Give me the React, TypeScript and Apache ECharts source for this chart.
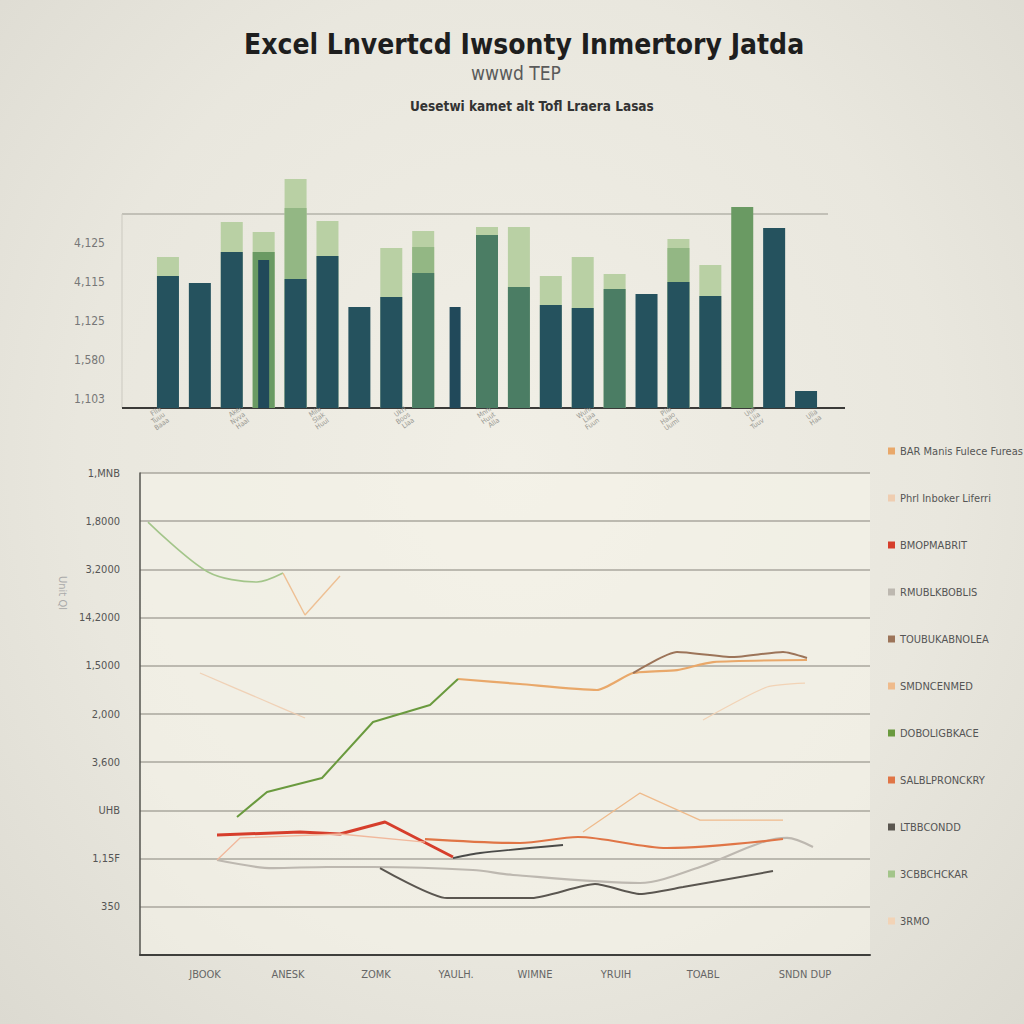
import React, { useEffect, useRef } from "react";
import * as echarts from "echarts";

const FONT = '"Liberation Sans Narrow", "DejaVu Sans Condensed", "Liberation Sans", sans-serif';

// ---------- texts ----------
const titleMain = "Excel Lnvertcd Iwsonty Inmertory Jatda";
const titleSub = "wwwd TEP";
const titleSub2 = "Uesetwi kamet alt Tofl Lraera Lasas";
const lineYName = "Unit Ql";

// ---------- top bar chart ----------
const barSlots = [
  "S01", "S02", "S03", "S04", "S05", "S06", "S07", "S08", "S09", "S10", "S11",
  "S12", "S13", "S14", "S15", "S16", "S17", "S18", "S19", "S20", "S21",
];
const barBack = [3872, null, 4769, 4513, 5872, 4795, null, 4103, 4538, null, 4641, 4641, 3385, 3872, 3436, null, 4333, 3667, null, null, null];
const barMid = [null, null, null, null, 5128, null, null, null, 4128, null, null, null, null, null, null, null, 4103, null, null, null, null];
const barDark = [3385, 3205, 4000, null, 3308, 3897, 2590, 2846, null, null, null, null, 2641, 2564, null, 2923, 3231, 2872, null, 4615, 436];
const barMidGreen = [null, null, null, null, null, null, null, null, 3462, null, 4436, 3103, null, null, 3051, null, null, null, null, null, null];
const barGreen = [null, null, null, 4000, null, null, null, null, null, null, null, null, null, null, null, null, null, null, 5154, null, null];
const barThin = [null, null, null, 3795, null, null, null, null, null, 2590, null, null, null, null, null, null, null, null, null, null, null];
const barYLabels = ["1,103", "1,580", "1,125", "4,115", "4,125"];
const barXLabelPos = [0.39, 2.9, 5.4, 8.07, 10.74, 13.87, 16.38, 19.04, 20.9];
const barXLabels = [
  "Flla\nTuuu\nBaaa", "Akel\nNvva\nHaal", "Mila\nSlak\nHuul", "Ukrl\nBoos\nLlaa",
  "Mnnl\nHuut\nAlla", "Wuhl\nLiaa\nFuun", "Plia\nHaao\nUuml", "Uuk\nLiia\nTuuv", "Ulia\nHaa",
];

// ---------- bottom line chart ----------
const lineYLabels = ["", "350", "1,15F", "UHB", "3,600", "2,000", "1,5000", "14,2000", "3,2000", "1,8000", "1,MNB"];
const lineXPos = [6.5, 14.8, 23.6, 31.6, 39.5, 47.6, 56.3, 66.5];
const lineXLabels = ["JBOOK", "ANESK", "ZOMK", "YAULH.", "WIMNE", "YRUIH", "TOABL", "SNDN DUP"];

const lineTan = [[31.8, 2863], [38, 2811], [45.7, 2749], [49.3, 2925], [53.7, 2956], [57.3, 3039], [66.7, 3060]];
const linePeachFaint = [[6, 2925], [12.3, 2645], [16.5, 2458]];
const lineRed = [[7.7, 1245], [16, 1276], [20, 1255], [24.5, 1380], [31.3, 1017]];
const lineLightGray = [[7.7, 985], [13.3, 902], [18.7, 913], [23.3, 913], [33.3, 882], [37.3, 830], [50, 747], [56, 913], [62, 1162], [64.7, 1214], [67.3, 1120]];
const lineBrown = [[49.3, 2925], [53.7, 3143], [59.3, 3091], [64.3, 3143], [66.7, 3081]];
const linePeak = [[44.3, 1276], [50, 1680], [56, 1400], [64.3, 1400]];
const lineGreenRise = [[9.7, 1431], [12.7, 1691], [18.2, 1836], [23.3, 2417], [29, 2593], [31.8, 2863]];
const lineOrangeRed = [[28.5, 1203], [38, 1162], [43.8, 1224], [52.7, 1110], [64.3, 1203]];
const lineDarkGray = [[24, 902], [30.7, 591], [39.2, 591], [45.5, 736], [50, 633], [54.3, 705], [63.3, 871]];
const lineGreenTop = [[0.8, 4491], [6.8, 3973], [11.7, 3869], [14.3, 3962]];
const lineOrangeFaint = [[56.3, 2438], [62.7, 2780], [66.5, 2821]];
const lineOrangeDip = [[14.3, 3962], [16.5, 3527], [20, 3931]];
const lineBlack = [[31.3, 1006], [34, 1058], [42.3, 1141]];
const linePeachStart = [[7.7, 985], [10, 1214], [20, 1255], [28.5, 1170]];

const legendNames = [
  "BAR Manis Fulece Fureas", "Phrl Inboker Liferri", "BMOPMABRIT", "RMUBLKBOBLIS",
  "TOUBUKABNOLEA", "SMDNCENMED", "DOBOLIGBKACE", "SALBLPRONCKRY", "LTBBCONDD",
  "3CBBCHCKAR", "3RMO",
];

export default function App() {
  const ref = useRef<HTMLDivElement>(null);
  useEffect(() => {
    if (!ref.current) return;
    const chart = echarts.init(ref.current, undefined, { renderer: "svg" });

    const lineDefs = [
      { name: legendNames[0], data: lineTan, color: "#e9a86a", width: 2.2, opacity: 1, smooth: 0.2 },
      { name: legendNames[1], data: linePeachFaint, color: "#efcdb0", width: 1.2, opacity: 0.9, smooth: 0.3 },
      { name: legendNames[2], data: lineRed, color: "#d63e2c", width: 3, opacity: 1, smooth: 0 },
      { name: legendNames[3], data: lineLightGray, color: "#bdb8b0", width: 2.2, opacity: 1, smooth: 0.3 },
      { name: legendNames[4], data: lineBrown, color: "#9c7459", width: 2, opacity: 1, smooth: 0.2 },
      { name: legendNames[5], data: linePeak, color: "#efbb8c", width: 1.3, opacity: 1, smooth: 0 },
      { name: legendNames[6], data: lineGreenRise, color: "#6a9a3e", width: 2, opacity: 1, smooth: 0 },
      { name: legendNames[7], data: lineOrangeRed, color: "#e07546", width: 2.2, opacity: 1, smooth: 0.3 },
      { name: legendNames[8], data: lineDarkGray, color: "#5a5650", width: 2, opacity: 1, smooth: 0.2 },
      { name: legendNames[9], data: lineGreenTop, color: "#a3c58a", width: 1.6, opacity: 1, smooth: 0.3 },
      { name: legendNames[10], data: lineOrangeFaint, color: "#f2d3b6", width: 1.2, opacity: 1, smooth: 0.2 },
      { name: "dip", data: lineOrangeDip, color: "#eec094", width: 1.4, opacity: 1, smooth: 0 },
      { name: "black", data: lineBlack, color: "#4a4a48", width: 1.8, opacity: 1, smooth: 0.2 },
      { name: "peach", data: linePeachStart, color: "#f1b89c", width: 1.3, opacity: 1, smooth: 0 },
    ];

    const barBase = { type: "bar", xAxisIndex: 0, yAxisIndex: 0, barWidth: 22, barGap: "-100%", clip: false };

    chart.setOption({
      animation: false,
      backgroundColor: "transparent",
      textStyle: { fontFamily: FONT },
      title: [
        { text: titleMain, left: 239, top: 25, textStyle: { fontSize: 28, fontWeight: "bold", color: "#1e1e1e", fontFamily: FONT } },
        { text: titleSub, left: 466, top: 58, textStyle: { fontSize: 19, fontWeight: "normal", color: "#5a5a5a", fontFamily: FONT } },
        { text: titleSub2, left: 405, top: 94, textStyle: { fontSize: 13.5, fontWeight: "bold", color: "#333", fontFamily: FONT } },
      ],
      legend: {
        orient: "vertical",
        left: 883,
        top: 439,
        itemWidth: 7,
        itemHeight: 7,
        itemGap: 33,
        icon: "rect",
        selectedMode: false,
        data: legendNames,
        textStyle: { fontSize: 11, color: "#555", lineHeight: 14, fontFamily: FONT },
      },
      grid: [
        { left: 152, right: 202, top: 213, bottom: 616, outerBoundsMode: "none" },
        { left: 140, right: 154, top: 473, bottom: 69, show: true, backgroundColor: "rgba(246,244,234,0.55)", borderWidth: 0, outerBoundsMode: "none" },
      ],
      xAxis: [
        { type: "category", gridIndex: 0, position: "bottom", data: barSlots, axisLine: { show: false }, axisTick: { show: false }, axisLabel: { show: false } },
        {
          type: "value", gridIndex: 0, position: "bottom", min: 0, max: 21, axisLine: { show: false }, axisTick: { show: false }, splitLine: { show: false },
          axisLabel: {
            customValues: barXLabelPos,
            formatter: (v: number) => barXLabels[barXLabelPos.indexOf(v)] ?? "",
            rotate: 35, fontSize: 7, lineHeight: 7, color: "#9a9a94", margin: 6,
          },
        },
        {
          type: "value", gridIndex: 1, min: 0, max: 73,
          axisLine: { show: true, onZero: false, lineStyle: { color: "#3f3f3c", width: 2 } },
          axisTick: { show: false }, splitLine: { show: false },
          axisLabel: {
            customValues: lineXPos,
            formatter: (v: number) => lineXLabels[lineXPos.indexOf(v)] ?? "",
            fontSize: 11, color: "#666", margin: 14,
          },
        },
        { type: "category", gridIndex: 0, position: "bottom", data: barSlots, show: false },
      ],
      yAxis: [
        {
          type: "value", gridIndex: 0, min: 0, max: 5000, interval: 1000,
          axisLine: { show: false },
          axisTick: { show: false }, splitLine: { show: false },
          axisLabel: {
            formatter: (v: number) => barYLabels[v / 1000] ?? "",
            verticalAlign: "bottom", padding: [0, 0, 3, 0], margin: 47, fontSize: 12, color: "#777",
          },
        },
        {
          type: "value", gridIndex: 1, min: 0, max: 5000, interval: 500,
          axisLine: { show: true, lineStyle: { color: "#55544f", width: 1.5 } },
          axisTick: { show: false },
          splitLine: { show: true, lineStyle: { color: "#aaa79e", width: 1.5 } },
          axisLabel: {
            formatter: (v: number) => lineYLabels[Math.round(v / 500)] ?? "",
            padding: [9, 0, 0, 0], margin: 20, fontSize: 11, color: "#555",
          },
        },
      ],
      graphic: [
        { type: "line", shape: { x1: 122, y1: 214, x2: 828, y2: 214 }, style: { stroke: "#b5b3aa", lineWidth: 1.5 } },
        { type: "line", shape: { x1: 122, y1: 214, x2: 122, y2: 408 }, style: { stroke: "#cbc9c0", lineWidth: 1 } },
        { type: "line", shape: { x1: 122, y1: 408, x2: 845, y2: 408 }, style: { stroke: "#3a3a38", lineWidth: 2 } },
        {
          type: "text", x: 62, y: 593, rotation: -Math.PI / 2,
          style: { text: lineYName, fill: "#aaa", fontSize: 11, fontFamily: FONT, align: "center", verticalAlign: "middle" },
        },
      ],
      series: [
        { ...barBase, name: "back", data: barBack, itemStyle: { color: "#b9d0a4" } },
        { ...barBase, name: "mid", data: barMid, itemStyle: { color: "#93b784" } },
        { ...barBase, name: "dark", data: barDark, itemStyle: { color: "#25525e" } },
        { ...barBase, name: "midgreen", data: barMidGreen, itemStyle: { color: "#4b7d64" } },
        { ...barBase, name: "green", data: barGreen, itemStyle: { color: "#6a9a63" } },
        { type: "bar", name: "thin", xAxisIndex: 3, yAxisIndex: 0, barWidth: 11, data: barThin, itemStyle: { color: "#21495a" } },
        ...lineDefs.map((d) => ({
          type: "line",
          name: d.name,
          xAxisIndex: 2,
          yAxisIndex: 1,
          data: d.data,
          showSymbol: false,
          smooth: d.smooth,
          itemStyle: { color: d.color },
          lineStyle: { color: d.color, width: d.width, opacity: d.opacity },
        })),
      ],
    });
    return () => chart.dispose();
  }, []);

  return (
    <div
      ref={ref}
      style={{
        position: "absolute",
        left: 0,
        top: 0,
        width: 1024,
        height: 1024,
        background: "radial-gradient(ellipse at 50% 45%, #f1efe6 0%, #e9e7de 60%, #dcdad1 100%)",
      }}
    />
  );
}
